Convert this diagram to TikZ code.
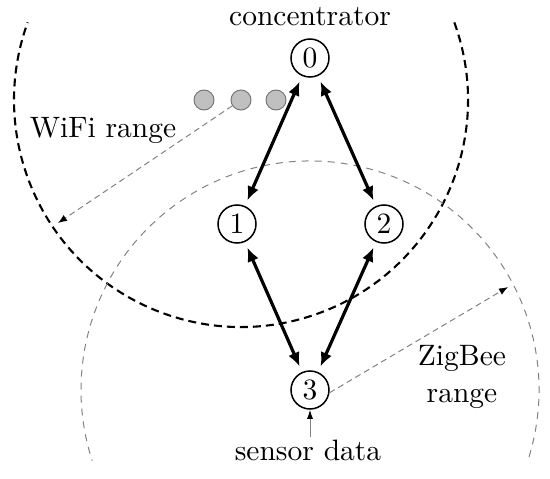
\documentclass[tikz,border=0pt]{standalone}
\usepackage{graphicx}
\usetikzlibrary{arrows.meta,calc}
\definecolor{dotfill}{RGB}{192,192,192}
\definecolor{dotdraw}{RGB}{120,120,120}
\definecolor{zbgray}{RGB}{130,130,130}
\newcommand{\sctext}[1]{\scalebox{2.95}{#1}}
\begin{document}
\begin{tikzpicture}[x=1pt,y=1pt,
  every node/.style={font=\fontsize{10}{12}\selectfont},
  netnode/.style={circle,draw=black,line width=1.5pt,minimum size=38pt,inner sep=0pt},
  graydot/.style={circle,draw=dotdraw,fill=dotfill,line width=1pt,minimum size=20pt,inner sep=0pt},
  lbl/.style={inner sep=0pt},
  link/.style={line width=3.2pt,{Latex[length=14pt,width=12pt]}-{Latex[length=14pt,width=12pt]},shorten <=6pt,shorten >=6pt},
  wifiarc/.style={line width=2.1pt,dash pattern=on 8pt off 5pt},
  zigarc/.style={draw=zbgray,line width=1pt,dash pattern=on 7pt off 6pt},
  rangearrow/.style={draw=zbgray,line width=1pt,dash pattern=on 6pt off 4pt,-{Latex[length=9pt,width=7pt,color=black]}},
  sensorarrow/.style={draw=zbgray,line width=1pt,-{Latex[length=9pt,width=6pt,color=black]}}
]
\useasboundingbox (0,0) rectangle (550,-479);

% nodes
\node[netnode] (n0) at (310,-58) {\sctext{0}};
\node[netnode] (n1) at (237,-224) {\sctext{1}};
\node[netnode] (n2) at (384,-224) {\sctext{2}};
\node[netnode] (n3) at (310,-390) {\sctext{3}};

\node[graydot] (g1) at (204,-100) {};
\node[graydot] (g2) at (241,-100) {};
\node[graydot] (g3) at (276,-100) {};

% range arcs
\draw[wifiarc] ([shift={(20:227)}]g2.center) arc[start angle=20,end angle=-200,radius=227];
\draw[zigarc] ([shift={(-17:229)}]n3.center) arc[start angle=-17,end angle=198,radius=229];

% labels
\node[lbl,anchor=base] (conc) at (310,-25) {\sctext{concentrator}};
\node[lbl,anchor=base] (wifil) at (103,-137) {\sctext{WiFi range}};
\node[lbl,anchor=base] (zigl) at (462,-365) {\sctext{\renewcommand{\arraystretch}{1.07}\begin{tabular}[t]{@{}c@{}}ZigBee\\range\end{tabular}}};
\node[lbl,anchor=base] (sd) at (308,-460) {\sctext{sensor data}};

% range arrows
\coordinate (wtip) at (58,-223);
\coordinate (ztip) at (508,-287);
\draw[rangearrow] (g2) -- (wtip);
\draw[rangearrow] (n3.-8) -- (ztip);

% sensor arrow
\draw[sensorarrow] ([yshift=2pt]sd.north -| n3.south) -- (n3.south);

% links
\draw[link] (n0) -- (n1);
\draw[link] (n0) -- (n2);
\draw[link] (n1) -- (n3);
\draw[link] (n2) -- (n3);
\end{tikzpicture}
\end{document}
